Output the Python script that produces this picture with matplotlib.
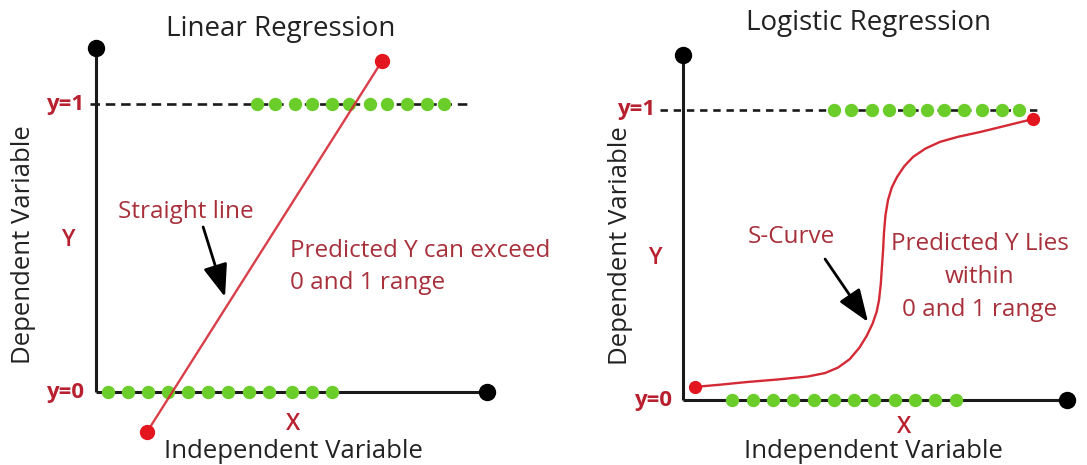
import numpy as np
import matplotlib
matplotlib.use("Agg")
import matplotlib.pyplot as plt

plt.rcParams["font.family"] = ["Open Sans", "DejaVu Sans"]

# ---- data (units: y=0 / y=1 levels) ----
# linear regression panel
lin_green_top_x = [0.56, 0.62, 0.69, 0.75, 0.82, 0.88, 0.95, 1.01, 1.08, 1.15, 1.21]
lin_green_bot_x = [0.04, 0.11, 0.18, 0.25, 0.32, 0.39, 0.46, 0.53, 0.60, 0.68, 0.75, 0.82]
lin_line_x = [0.177, 0.993]
lin_line_y = [-0.139, 1.149]

# logistic regression panel
log_green_top_x = [0.52, 0.58, 0.65, 0.71, 0.78, 0.84, 0.90, 0.97, 1.03, 1.10, 1.16]
log_green_bot_x = [0.17, 0.24, 0.31, 0.38, 0.45, 0.52, 0.59, 0.66, 0.73, 0.80, 0.87, 0.94]
s_curve_x = [0.041, 0.13, 0.221, 0.33, 0.430, 0.490, 0.535, 0.575, 0.608, 0.634, 0.654,
             0.668, 0.676, 0.682, 0.686, 0.690, 0.693, 0.698, 0.707, 0.720, 0.738,
             0.763, 0.793, 0.836, 0.886, 0.95, 1.024, 1.11, 1.207]
s_curve_y = [0.045, 0.053, 0.062, 0.071, 0.081, 0.093, 0.112, 0.141, 0.180, 0.222, 0.264,
             0.305, 0.345, 0.400, 0.459, 0.518, 0.576, 0.636, 0.690, 0.733, 0.769,
             0.806, 0.838, 0.867, 0.890, 0.908, 0.924, 0.945, 0.969]

GREEN = "#6acd2a"
RED_DOT = "#e3161f"
RED_LINE = "#d42a36"
LABEL_RED = "#b8202f"
NOTE_RED = "#a8303b"
AXIS = "#1a1a1a"
TXT = "#222222"

W, H = 1087, 465
fig = plt.figure(figsize=(W / 100, H / 100), dpi=100)

ARROW = dict(arrowstyle="-|>,head_length=2.0,head_width=0.75",
             color="black", lw=2.0, shrinkA=0, shrinkB=0)


def panel(x0_px, x1_px, origin, unit):
    # one axes per panel; data unit = distance between y=0 and y=1 lines
    ox, oy = origin
    ax = fig.add_axes([x0_px / W, 0, (x1_px - x0_px) / W, 1])
    ax.set_xlim((x0_px - ox) / unit, (x1_px - ox) / unit)
    ax.set_ylim((oy - H) / unit, oy / unit)
    ax.axis("off")
    return ax


def frame(ax, top, right, dash_from, dash_to, dashes):
    ax.plot([0, 0], [0, top], color=AXIS, lw=2.2, solid_capstyle="butt", zorder=2)
    ax.plot([0, right], [0, 0], color=AXIS, lw=2.2, solid_capstyle="butt", zorder=2)
    ax.plot([0, right], [top, 0], ls="none", marker="o", ms=11.5, color="black", zorder=3)
    ax.plot([dash_from, dash_to], [1, 1], color=AXIS, lw=1.9, dashes=dashes, zorder=2)


# ---------------- Linear regression ----------------
ax1 = panel(0, 543, (96, 392), 288)
frame(ax1, 1.194, 1.358, -0.02, 1.29, (3.6, 2.2))
ax1.plot(lin_green_top_x, np.ones(len(lin_green_top_x)), ls="none", marker="o",
         ms=8.6, color=GREEN, zorder=4)
ax1.plot(lin_green_bot_x, np.zeros(len(lin_green_bot_x)), ls="none", marker="o",
         ms=8.6, color=GREEN, zorder=4)
ax1.plot(lin_line_x, lin_line_y, color=RED_LINE, lw=1.7, alpha=0.9, zorder=5)
ax1.plot(lin_line_x, lin_line_y, ls="none", marker="o", ms=10, color=RED_DOT, zorder=6)

ax1.text(0.64, 1.262, "Linear Regression", ha="center", va="center", fontsize=20, color=TXT)
ax1.text(-0.042, 1, "y=1", ha="right", va="center", fontsize=16, fontweight="bold", color=LABEL_RED)
ax1.text(-0.042, 0, "y=0", ha="right", va="center", fontsize=16, fontweight="bold", color=LABEL_RED)
ax1.text(-0.097, 0.528, "Y", ha="center", va="center", fontsize=16.5, fontweight="semibold",
         color=LABEL_RED)
ax1.text(-0.25, 0.51, "Dependent Variable", ha="center", va="center", rotation=90,
         fontsize=18.5, color=TXT)
ax1.text(0.684, -0.111, "X", ha="center", va="center", fontsize=16.5, fontweight="semibold",
         color=LABEL_RED)
ax1.text(0.684, -0.205, "Independent Variable", ha="center", va="center", fontsize=18.5, color=TXT)
ax1.text(0.076, 0.625, "Straight line", ha="left", va="center", fontsize=17.5, color=NOTE_RED)
ax1.text(0.674, 0.434, "Predicted Y can exceed\n0 and 1 range", ha="left", va="center",
         fontsize=17.5, color=NOTE_RED, linespacing=1.45)
ax1.annotate("", xy=(0.448, 0.330), xytext=(0.372, 0.573), arrowprops=ARROW)

# ---------------- Logistic regression ----------------
ax2 = panel(543, 1087, (683, 400), 290)
frame(ax2, 1.19, 1.324, -0.079, 1.221, (2.8, 2.2))
ax2.plot(log_green_top_x, np.ones(len(log_green_top_x)), ls="none", marker="o",
         ms=8.6, color=GREEN, zorder=4)
ax2.plot(log_green_bot_x, np.zeros(len(log_green_bot_x)), ls="none", marker="o",
         ms=8.6, color=GREEN, zorder=4)
ax2.plot(s_curve_x, s_curve_y, color=RED_LINE, lw=1.7, zorder=5)
ax2.plot([s_curve_x[0], s_curve_x[-1]], [s_curve_y[0], s_curve_y[-1]], ls="none",
         marker="o", ms=8.5, color=RED_DOT, zorder=6)

ax2.text(0.641, 1.300, "Logistic Regression", ha="center", va="center", fontsize=20, color=TXT)
ax2.text(-0.097, 1, "y=1", ha="right", va="center", fontsize=16, fontweight="bold", color=LABEL_RED)
ax2.text(-0.038, 0, "y=0", ha="right", va="center", fontsize=16, fontweight="bold", color=LABEL_RED)
ax2.text(-0.097, 0.490, "Y", ha="center", va="center", fontsize=16.5, fontweight="semibold",
         color=LABEL_RED)
ax2.text(-0.214, 0.534, "Dependent Variable", ha="center", va="center", rotation=90,
         fontsize=18.5, color=TXT)
ax2.text(0.762, -0.093, "X", ha="center", va="center", fontsize=16.5, fontweight="semibold",
         color=LABEL_RED)
ax2.text(0.655, -0.176, "Independent Variable", ha="center", va="center", fontsize=18.5, color=TXT)
ax2.text(0.224, 0.562, "S-Curve", ha="left", va="center", fontsize=17.5, color=NOTE_RED)
ax2.text(1.024, 0.424, "Predicted Y Lies\nwithin\n0 and 1 range", ha="center", va="center",
         fontsize=17.5, color=NOTE_RED, linespacing=1.5)
ax2.annotate("", xy=(0.638, 0.269), xytext=(0.490, 0.486), arrowprops=ARROW)

fig.savefig("out.png", dpi=100)
